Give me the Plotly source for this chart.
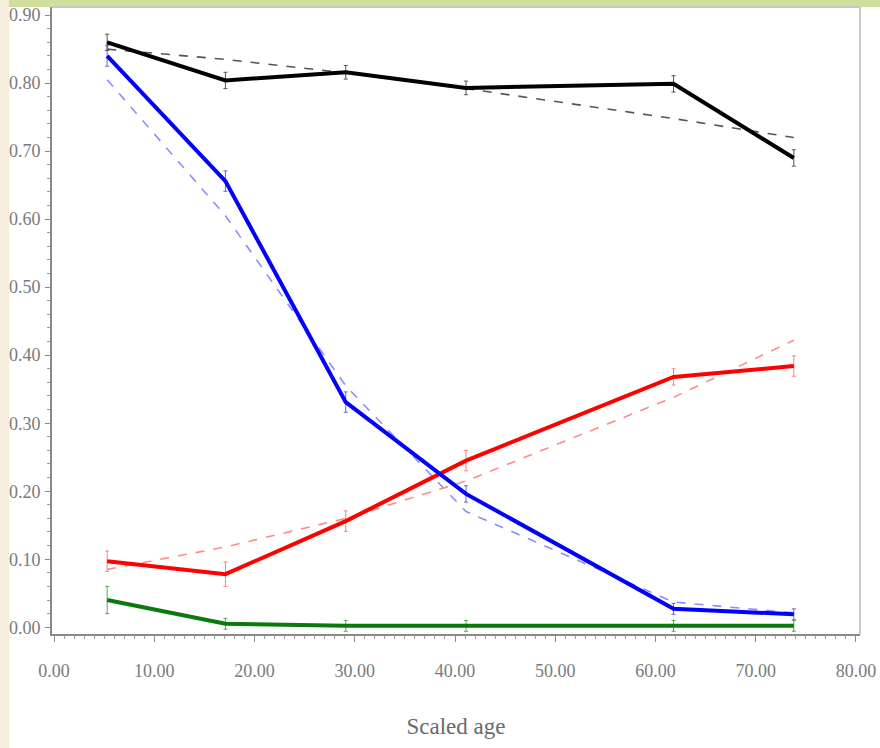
import plotly.graph_objects as go

# Scaled age (x positions of observations)
ages = [5.3, 17.1, 29.1, 41.1, 61.8, 73.8]

# Observed proportions (solid lines)
black_obs = [0.860, 0.804, 0.816, 0.793, 0.799, 0.690]
blue_obs = [0.840, 0.656, 0.331, 0.196, 0.027, 0.019]
red_obs = [0.097, 0.078, 0.156, 0.245, 0.368, 0.384]
green_obs = [0.040, 0.005, 0.002, 0.002, 0.002, 0.002]

# Fitted proportions (dashed lines)
black_fit = [0.850, 0.835, 0.815, 0.792, 0.748, 0.720]
blue_fit = [0.805, 0.605, 0.355, 0.170, 0.037, 0.021]
red_fit = [0.085, 0.118, 0.160, 0.215, 0.338, 0.422]

# Small error half-widths
black_err = [0.012, 0.012, 0.010, 0.010, 0.012, 0.012]
blue_err = [0.015, 0.015, 0.015, 0.012, 0.008, 0.008]
red_err = [0.015, 0.018, 0.015, 0.015, 0.012, 0.015]
green_err = [0.020, 0.008, 0.008, 0.008, 0.008, 0.008]

# Axis ticks
xticks = [0, 10, 20, 30, 40, 50, 60, 70, 80]
xtick_text = ["0.00", "10.00", "20.00", "30.00", "40.00", "50.00", "60.00", "70.00", "80.00"]
yticks = [0.0, 0.1, 0.2, 0.3, 0.4, 0.5, 0.6, 0.7, 0.8, 0.9]
ytick_text = ["0.00", "0.10", "0.20", "0.30", "0.40", "0.50", "0.60", "0.70", "0.80", "0.90"]

fig = go.Figure()

def dashed(y, color):
    fig.add_trace(go.Scatter(x=ages, y=y, mode="lines",
                             line=dict(color=color, width=1.6, dash="dash"),
                             showlegend=False, hoverinfo="skip"))

def solid(y, err, color, errcolor):
    fig.add_trace(go.Scatter(x=ages, y=y, mode="lines",
                             line=dict(color=color, width=4),
                             error_y=dict(type="data", array=err, visible=True,
                                          color=errcolor, thickness=1, width=2),
                             showlegend=False))

dashed(black_fit, "#555555")
dashed(blue_fit, "#8c8cff")
dashed(red_fit, "#ff8a8a")

solid(green_obs, green_err, "#0a7a0a", "#4caf4c")
solid(red_obs, red_err, "#ff0000", "#ff8080")
solid(blue_obs, blue_err, "#0000ff", "#6060ff")
solid(black_obs, black_err, "#000000", "#555555")

font_family = "Liberation Serif"
W, H = 880, 748
ml, mr, mt, mb = 52, 20, 7, 114
pw, ph = W - ml - mr, H - mt - mb

fig.update_xaxes(range=[-0.2, 80.4], tickvals=xticks, ticktext=xtick_text, automargin=False,
                 showgrid=False, zeroline=False, showline=True, linecolor="#8a8a8a", linewidth=2,
                 ticks="outside", ticklen=6, tickcolor="#8a8a8a", tickwidth=1,
                 ticklabelstandoff=13,
                 minor=dict(dtick=1, ticks="outside", ticklen=3, tickcolor="#9a9a9a", tickwidth=1),
                 tickfont=dict(family=font_family, size=18, color="#7a7a7a"),
                 title=dict(text="Scaled age", font=dict(family=font_family, size=23, color="#6a6a6a"),
                            standoff=38))
fig.update_yaxes(range=[-0.01, 0.912], tickvals=yticks, ticktext=ytick_text, automargin=False,
                 showgrid=False, zeroline=False, showline=True, linecolor="#8a8a8a", linewidth=2,
                 ticks="outside", ticklen=5, tickcolor="#8a8a8a", tickwidth=1,
                 ticklabelstandoff=1,
                 minor=dict(dtick=0.02, ticks="outside", ticklen=3, tickcolor="#9a9a9a", tickwidth=1),
                 tickfont=dict(family=font_family, size=18, color="#7a7a7a"))

shapes = [
    # beige left strip
    dict(type="rect", xref="paper", yref="paper",
         x0=-ml / pw, x1=(9 - ml) / pw, y0=-mb / ph, y1=1 + mt / ph,
         fillcolor="#f6eddc", line=dict(width=0), layer="below"),
    # green top strip
    dict(type="rect", xref="paper", yref="paper",
         x0=(9 - ml) / pw, x1=1 + mr / pw, y0=1, y1=1 + mt / ph,
         fillcolor="#cfe09c", line=dict(width=0), layer="below"),
    # top frame line
    dict(type="line", xref="paper", yref="paper", x0=0, x1=1, y0=1, y1=1,
         line=dict(color="#c8c8c8", width=2)),
    # right frame line
    dict(type="line", xref="paper", yref="paper", x0=1, x1=1, y0=0, y1=1,
         line=dict(color="#c8c8c8", width=2)),
]

fig.update_layout(width=W, height=H, margin=dict(l=ml, r=mr, t=mt, b=mb, autoexpand=False),
                  paper_bgcolor="white", plot_bgcolor="white", shapes=shapes,
                  showlegend=False)

fig.write_html("out.html", config={"displayModeBar": False},
               post_script="document.body.style.margin='0px';document.body.style.overflow='hidden';")
